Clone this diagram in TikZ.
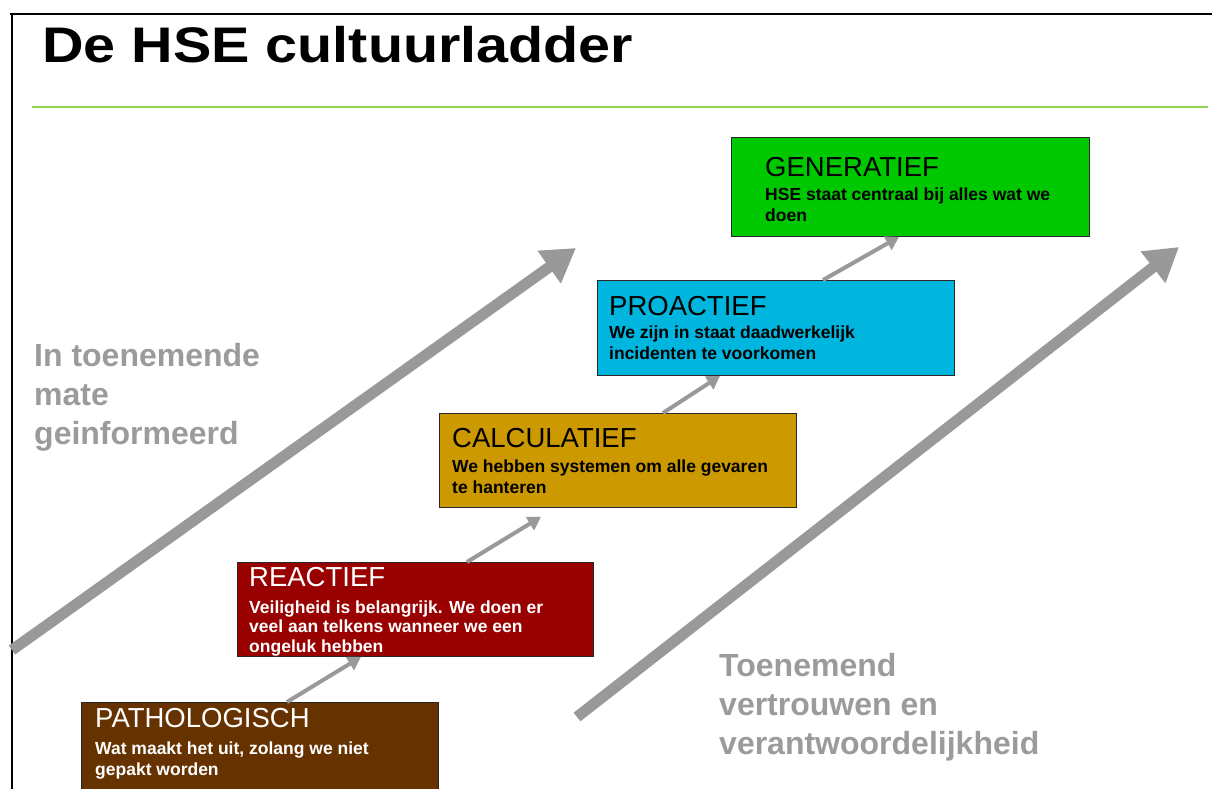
\documentclass[tikz,border=0pt]{standalone}
\usepackage{fontspec}
\setmainfont{Liberation Sans}
\usetikzlibrary{arrows.meta,calc}
\definecolor{genc}{RGB}{0,200,0}
\definecolor{proc}{RGB}{0,182,222}
\definecolor{calcol}{RGB}{204,153,0}
\definecolor{reac}{RGB}{153,0,0}
\definecolor{patc}{RGB}{102,51,0}
\definecolor{arrgray}{RGB}{153,153,153}
\definecolor{txtgray}{RGB}{155,155,155}
\definecolor{rulegreen}{RGB}{146,208,80}
\definecolor{boxline}{RGB}{40,40,40}
\tikzset{
  stage/.style={draw=boxline, line width=0.9pt, anchor=north west, inner sep=0pt, minimum width=#1},
  stagetitle/.style={anchor=base west, inner sep=0pt, font=\fontsize{27.5}{27.5}\selectfont},
  stagebody/.style={anchor=base west, inner sep=0pt, align=left, font=\fontsize{17.5}{21}\selectfont\bfseries},
  smallarr/.style={draw=arrgray, line width=4pt, -{Triangle[length=13pt,width=15pt]}},
  bigarr/.style={draw=arrgray, line width=11pt, -{Triangle[length=33pt,width=38pt]}},
  sidelabel/.style={anchor=base west, inner sep=0pt, align=left, text=txtgray, font=\fontsize{32}{39}\selectfont\bfseries},
}
\begin{document}
\begin{tikzpicture}[x=1pt,y=-1pt]
\useasboundingbox (0,0) rectangle (1212,789);
\clip (0,0) rectangle (1212,789);
% frame and title
\draw[line width=2.5pt] (10,14) -- (1214,14);
\draw[line width=2.5pt] (12,13) -- (12,792);
\node[anchor=base west, inner sep=0pt, font=\fontsize{50}{50}\selectfont\bfseries] (title) at (42,63) {\scalebox{1.15}[1]{De HSE cultuurladder}};
\draw[rulegreen, line width=2pt] (32,107) -- (1208,107);
% big arrows
\coordinate (la) at (12,650);
\coordinate (lb) at (576,248);
\coordinate (ra) at (577,717);
\coordinate (rb) at (1179,247);
\draw[bigarr] (la) -- (lb);
\draw[bigarr] (ra) -- (rb);
% side labels (anchor = baseline of last line)
\node[sidelabel] (lt) at (34,444) {In toenemende\\mate\\geinformeerd};
\node[sidelabel] (rt) at (719,754) {Toenemend\\vertrouwen en\\verantwoordelijkheid};
% boxes
\node[stage=358pt, fill=genc, minimum height=99pt] (gen) at (731,137) {};
\node[stage=357pt, fill=proc, minimum height=95pt] (pro) at (597,280) {};
\node[stage=357pt, fill=calcol, minimum height=94pt] (cal) at (439,413) {};
\node[stage=356pt, fill=reac, minimum height=94pt] (rea) at (237,562) {};
\node[stage=357pt, fill=patc, minimum height=100pt] (pat) at (81,702) {};
% texts
\node[stagetitle] (gent) at (765,176) {GENERATIEF};
\node[stagebody] (genb) at (765,221) {HSE staat centraal bij alles wat we\\doen};
\node[stagetitle] (prot) at (609,315) {PROACTIEF};
\node[stagebody] (prob) at (609,359) {We zijn in staat daadwerkelijk\\incidenten te voorkomen};
\node[stagetitle] (calt) at (452,447) {CALCULATIEF};
\node[stagebody] (calb) at (452,493) {We hebben systemen om alle gevaren\\te hanteren};
\node[stagetitle, text=white] (reat) at (249,586) {REACTIEF};
\begin{scope}
\clip (237,562) rectangle (593,655.5);
\node[stagebody, text=white, font=\fontsize{17.5}{19.5}\selectfont\bfseries] (reab) at (249,652) {Veiligheid is belangrijk. We doen er\\veel aan telkens wanneer we een\\ongeluk hebben};
\end{scope}
\node[stagetitle, text=white] (patt) at (95,727) {PATHOLOGISCH};
\node[stagebody, text=white] (patb) at (95,775) {Wat maakt het uit, zolang we niet\\gepakt worden};
% connectors between stages
\draw[smallarr] ([xshift=206pt]pat.north west) -- ([xshift=124pt]rea.south west);
\draw[smallarr] ([xshift=230pt]rea.north west) -- ([xshift=102pt,yshift=-9pt]cal.south west);
\draw[smallarr] ([xshift=224pt]cal.north west) -- ([xshift=123pt]pro.south west);
\draw[smallarr] ([xshift=226pt]pro.north west) -- ([xshift=168pt]gen.south west);
\end{tikzpicture}
\end{document}
